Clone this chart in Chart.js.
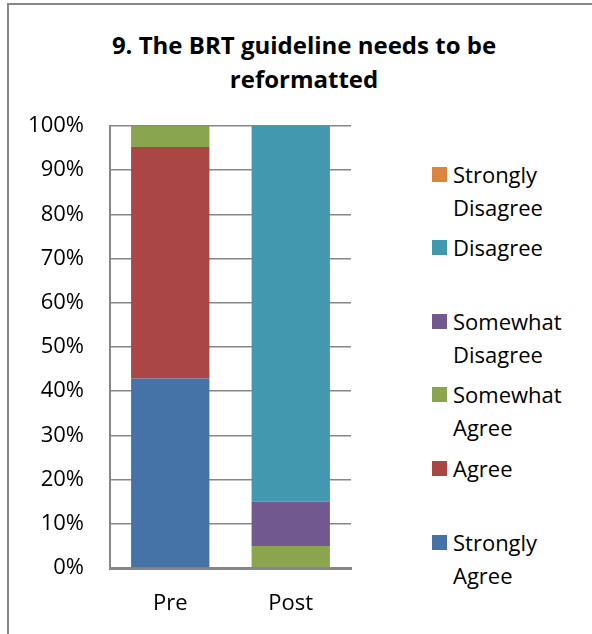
<!DOCTYPE html>
<html>
<head>
<meta charset="utf-8">
<script src="https://cdn.jsdelivr.net/npm/chart.js@4"></script>
<style>
  html, body { margin: 0; padding: 0; background: #fff; }
  #frame {
    position: relative;
    width: 592px;
    height: 634px;
    overflow: hidden;
    font-family: "Open Sans", sans-serif;
  }
  #frame::before {
    content: "";
    position: absolute;
    left: 7px; top: 3px; right: -4px; bottom: -4px;
    border-left: 2px solid #878787;
    border-top: 2px solid #878787;
  }
  #title {
    position: absolute;
    left: 16px; width: 576px; top: 28px;
    text-align: center;
    font-weight: bold;
    font-size: 24px;
    line-height: 34px;
    color: #000;
  }
  #chartBox { position: absolute; left: 0; top: 0; width: 360px; height: 634px; }
  #legend { position: absolute; left: 432px; top: 0; }
  .item { position: absolute; left: 0; white-space: nowrap; }
  .swatch { position: absolute; left: 0; width: 15px; height: 15px; }
  .label { position: absolute; left: 21px; top: 0; font-size: 22px; line-height: 33px; color: #000; }
</style>
</head>
<body>
<div id="frame">
  <div id="title">9. The BRT guideline needs to be<br>reformatted</div>
  <div id="chartBox"><canvas id="chart" width="360" height="634"></canvas></div>
  <div id="legend"></div>
</div>
<script>
// categories and series (percent of respondents)
const categories = ['Pre', 'Post'];
const seriesNames = ['Strongly Agree', 'Agree', 'Somewhat Agree', 'Somewhat Disagree', 'Disagree', 'Strongly Disagree'];
const legendLines = [['Strongly', 'Agree'], ['Agree'], ['Somewhat', 'Agree'], ['Somewhat', 'Disagree'], ['Disagree'], ['Strongly', 'Disagree']];
const stronglyAgree = [42.86, 0];
const agree = [52.38, 0];
const somewhatAgree = [4.76, 5];
const somewhatDisagree = [0, 10];
const disagree = [0, 85];
const stronglyDisagree = [0, 0];
const seriesColors = ['#4572A7', '#AA4643', '#89A54E', '#71588F', '#4198AF', '#DB843D'];

const seriesValues = [stronglyAgree, agree, somewhatAgree, somewhatDisagree, disagree, stronglyDisagree];

const datasets = seriesNames.map((name, i) => ({
  label: name,
  data: seriesValues[i],
  backgroundColor: seriesColors[i],
  borderWidth: 0,
  categoryPercentage: 0.65,
  barPercentage: 1.0,
}));

const axisColor = '#878787';
const tickFont = { family: 'Open Sans', size: 22 };

new Chart(document.getElementById('chart').getContext('2d'), {
  type: 'bar',
  data: { labels: categories, datasets },
  options: {
    responsive: false,
    animation: false,
    layout: { padding: { top: 126, right: 9, left: 0, bottom: 0 } },
    plugins: {
      legend: { display: false },
      tooltip: { enabled: false },
      title: { display: false },
    },
    scales: {
      x: {
        stacked: true,
        grid: { display: false, drawTicks: false },
        border: { color: axisColor, width: 3 },
        ticks: { color: '#000', font: tickFont, padding: 23 },
        afterFit: (scale) => { scale.height = 66; },
      },
      y: {
        stacked: true,
        min: 0,
        max: 100,
        grid: { color: axisColor, lineWidth: 1.5, drawTicks: false },
        border: { color: axisColor, width: 2 },
        ticks: {
          stepSize: 10,
          color: '#000',
          font: tickFont,
          padding: 26,
          callback: (v) => v + '%',
        },
        afterFit: (scale) => { scale.width = 110; },
      },
    },
  },
});

// legend, top entry is the last series
const legend = document.getElementById('legend');
for (let i = seriesNames.length - 1; i >= 0; i--) {
  const row = seriesNames.length - 1 - i;
  const centerY = 174 + row * 73.6;
  const item = document.createElement('div');
  item.className = 'item';
  item.style.top = (centerY - 16.5) + 'px';
  const sw = document.createElement('div');
  sw.className = 'swatch';
  sw.style.background = seriesColors[i];
  sw.style.top = '9px';
  const lbl = document.createElement('div');
  lbl.className = 'label';
  lbl.innerHTML = legendLines[i].join('<br>');
  item.appendChild(sw);
  item.appendChild(lbl);
  legend.appendChild(item);
}
</script>
</body>
</html>
